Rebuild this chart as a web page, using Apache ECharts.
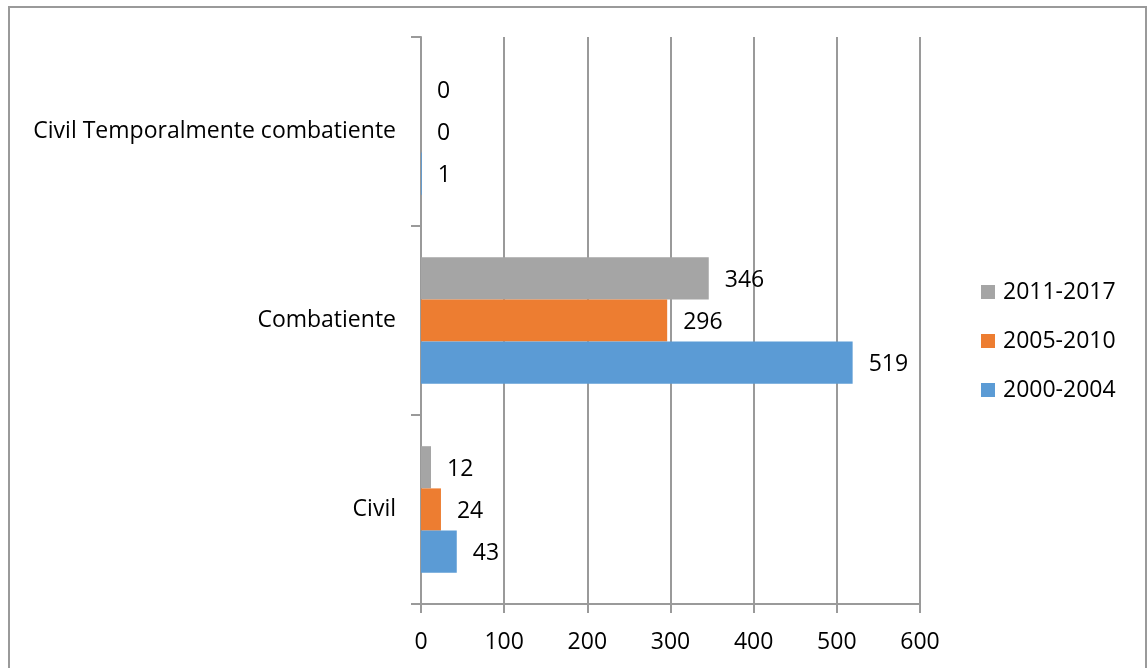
<!DOCTYPE html>
<html>
<head>
<meta charset="utf-8">
<script src="https://cdn.jsdelivr.net/npm/echarts@6/dist/echarts.min.js"></script>
<style>
  html, body { margin: 0; padding: 0; background: #fff; }
  #chart { width: 1147px; height: 668px; }
</style>
</head>
<body>
<div id="chart"></div>
<script>
// Categories, bottom to top
const categories = ['Civil', 'Combatiente', 'Civil Temporalmente combatiente'];
// Period series (top bar of each group first)
const periods = ['2011-2017', '2005-2010', '2000-2004'];
const values2011_2017 = [12, 346, 0];
const values2005_2010 = [24, 296, 0];
const values2000_2004 = [43, 519, 1];
const xTicks = [0, 100, 200, 300, 400, 500, 600];

const colors = ['#a5a5a5', '#ed7d31', '#5b9bd5'];
const seriesValues = [values2011_2017, values2005_2010, values2000_2004];
const FONT = 'Open Sans';
const FS = 23;
const gridColor = '#9a9a9a';

const chart = echarts.init(document.getElementById('chart'));

chart.setOption({
  animation: false,
  textStyle: { fontFamily: FONT },
  graphic: [{
    type: 'rect',
    shape: { x: 9, y: 7, width: 1137, height: 700 },
    style: { fill: 'none', stroke: '#9a9a9a', lineWidth: 2 },
    silent: true
  }],
  grid: { left: 421, right: 227, top: 37, bottom: 64 },
  legend: {
    orient: 'vertical',
    left: 976,
    top: 274,
    data: periods,
    icon: 'rect',
    itemWidth: 14,
    itemHeight: 14,
    itemGap: 23,
    textStyle: { fontFamily: FONT, fontSize: FS, color: '#000', lineHeight: 26, padding: [0, 0, 0, 3] }
  },
  xAxis: {
    type: 'value',
    min: xTicks[0],
    max: xTicks[xTicks.length - 1],
    interval: xTicks[1] - xTicks[0],
    axisLine: { show: true, lineStyle: { color: gridColor, width: 2 } },
    axisTick: { show: true, length: 9, lineStyle: { color: gridColor, width: 2 } },
    splitLine: { show: true, lineStyle: { color: gridColor, width: 2 } },
    axisLabel: { color: '#000', fontSize: FS, fontFamily: FONT, margin: 27 }
  },
  yAxis: {
    type: 'category',
    data: categories,
    axisLine: { show: true, lineStyle: { color: gridColor, width: 2 } },
    axisTick: { show: true, length: 10, lineStyle: { color: gridColor, width: 2 } },
    axisLabel: { color: '#000', fontSize: FS, fontFamily: FONT, margin: 25, padding: [2, 0, 0, 0] }
  },
  series: periods.map((name, i) => ({
    name,
    type: 'bar',
    data: seriesValues[i],
    barGap: '0%',
    barCategoryGap: '33%',
    itemStyle: { color: colors[i] },
    label: {
      show: true,
      position: 'right',
      distance: 16,
      offset: [0, 2],
      color: '#000',
      fontSize: FS,
      fontFamily: FONT
    }
  }))
});
</script>
</body>
</html>
